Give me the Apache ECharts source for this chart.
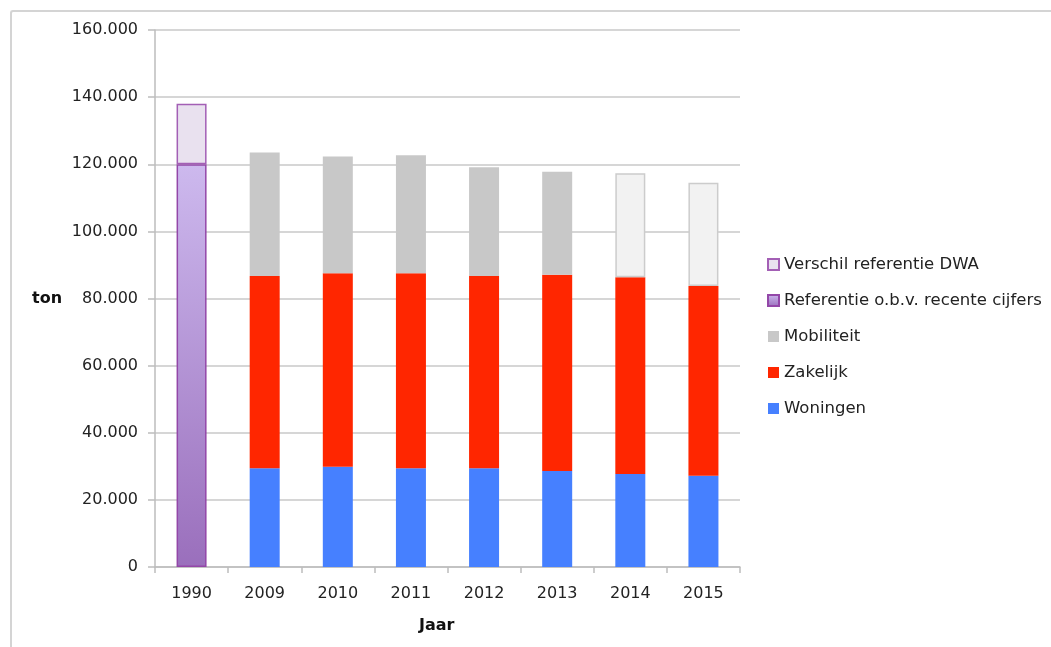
<!DOCTYPE html>
<html>
<head>
<meta charset="utf-8">
<script src="https://cdn.jsdelivr.net/npm/echarts@6/dist/echarts.min.js"></script>
<style>
html,body{margin:0;padding:0;background:#fff;}
#frame{position:absolute;left:10px;top:10px;width:1041px;height:700px;border:2px solid #d4d4d4;border-right:none;border-radius:3px 0 0 0;box-sizing:border-box;}
#main{position:absolute;left:0;top:0;width:1051px;height:647px;}
</style>
</head>
<body>
<div id="frame"></div>
<div id="main"></div>
<script>
const categories = ['1990','2009','2010','2011','2012','2013','2014','2015'];
const woningen   = ['-', 29.4, 29.9, 29.4, 29.4, 28.6, 27.7, 27.2].map(v => v === '-' ? v : v * 1000);
const zakelijk   = ['-', 57.3, 57.6, 58.1, 57.3, 58.5, 58.6, 56.5].map(v => v === '-' ? v : v * 1000);
const mobiliteit = ['-', 36.8, 34.8, 35.2, 32.4, 30.7, 31.0, 30.8].map(v => v === '-' ? v : v * 1000);
const referentie = [120.0, '-', '-', '-', '-', '-', '-', '-'].map(v => v === '-' ? v : v * 1000);
const verschil   = [18.0, '-', '-', '-', '-', '-', '-', '-'].map(v => v === '-' ? v : v * 1000);
const yTicks = [0, 20000, 40000, 60000, 80000, 100000, 120000, 140000, 160000];

const chart = echarts.init(document.getElementById('main'));
const font = '"DejaVu Sans", sans-serif';
const fmt = v => v === 0 ? '0' : String(v).replace(/\B(?=(\d{3})+(?!\d))/g, '.');

chart.setOption({
  animation: false,
  backgroundColor: 'transparent',
  textStyle: {fontFamily: font},
  grid: {left: 155, right: 311, top: 30, bottom: 80, containLabel: false},
  legend: {
    orient: 'vertical', left: 762, top: 251, itemWidth: 11, itemHeight: 11, itemGap: 19,
    icon: 'rect',
    textStyle: {fontFamily: font, fontSize: 16.5, color: '#222'},
    data: ['Verschil referentie DWA','Referentie o.b.v. recente cijfers','Mobiliteit','Zakelijk','Woningen']
  },
  xAxis: {
    type: 'category', data: categories,
    axisLine: {lineStyle: {color: '#bdbdbd', width: 1.5}},
    axisTick: {show: true, length: 6, lineStyle: {color: '#bdbdbd', width: 1.5}},
    axisLabel: {fontFamily: font, fontSize: 16, color: '#222', margin: 19}
  },
  yAxis: {
    type: 'value', min: yTicks[0], max: yTicks[yTicks.length-1], interval: yTicks[1]-yTicks[0],
    axisLine: {show: true, lineStyle: {color: '#bdbdbd', width: 1.5}},
    axisTick: {show: true, length: 7, lineStyle: {color: '#bdbdbd', width: 1.5}},
    splitLine: {lineStyle: {color: '#c8c8c8', width: 1.5}},
    axisLabel: {fontFamily: font, fontSize: 16, color: '#222', margin: 17, formatter: fmt}
  },
  graphic: [
    {type: 'text', left: 32, top: 291, style: {text: 'ton', font: 'bold 16px ' + font, fill: '#111'}},
    {type: 'text', left: 419, top: 618, style: {text: 'Jaar', font: 'bold 16px ' + font, fill: '#111'}}
  ],
  series: [
    {name: 'Woningen', type: 'bar', stack: 'a', barWidth: 30, data: woningen,
     itemStyle: {color: '#4680ff'}},
    {name: 'Zakelijk', type: 'bar', stack: 'a', barWidth: 30, data: zakelijk,
     itemStyle: {color: '#ff2600'}},
    {name: 'Mobiliteit', type: 'bar', stack: 'a', barWidth: 30,
     data: mobiliteit.map((v, i) => Number(categories[i]) >= 2014
       ? {value: v, itemStyle: {color: '#f2f2f2', borderColor: '#cccccc', borderWidth: 1.5}} : v),
     itemStyle: {color: '#c8c8c8'}},
    {name: 'Referentie o.b.v. recente cijfers', type: 'bar', stack: 'a', barWidth: 30, data: referentie,
     itemStyle: {
       color: new echarts.graphic.LinearGradient(0, 0, 0, 1, [
         {offset: 0, color: '#cdb9ee'}, {offset: 1, color: '#9a6fbc'}]),
       borderColor: '#9347a8', borderWidth: 1.5}},
    {name: 'Verschil referentie DWA', type: 'bar', stack: 'a', barWidth: 30, data: verschil,
     itemStyle: {color: '#e9e1ef', borderColor: '#a35fb5', borderWidth: 1.5}}
  ]
});
</script>
</body>
</html>
